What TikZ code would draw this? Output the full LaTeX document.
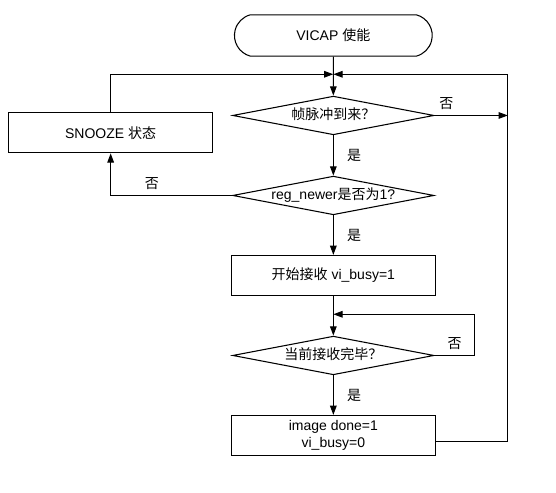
\documentclass[tikz,border=0pt]{standalone}
\usepackage{fontspec}
\setmainfont{Liberation Sans}
\newfontfamily\cjk{Noto Sans CJK SC}
\usetikzlibrary{positioning,shapes.geometric,shapes.misc,arrows.meta}

\begin{document}
\begin{tikzpicture}[
    node distance=60pt,
    line width=0.8pt,
    font=\fontsize{10.5}{12.5}\selectfont,
    term/.style={rounded rectangle, rounded rectangle arc length=150, draw, minimum width=155pt, minimum height=31pt},
    proc/.style={rectangle, draw, minimum width=153pt, minimum height=30pt, align=center},
    dec/.style={diamond, draw, aspect=5, inner sep=0pt, text height=7.5pt, text depth=2pt, minimum width=151pt, minimum height=29pt},
    lbl/.style={inner sep=0pt},
    arrow/.style={-{Triangle[length=7pt,width=5pt]}}
]
    \useasboundingbox (-250pt,26.6pt) rectangle (167pt,-342.4pt);
    % Start
    \node[term] (start) {VICAP {\cjk 使能}};
    % Main column
    \node[dec, below of=start] (pulse) {{\cjk 帧脉冲到来？}};
    \node[dec, below of=pulse] (newer) {reg\_newer{\cjk 是否为}1?};
    \node[proc, below of=newer] (recv) {{\cjk 开始接收} vi\_busy=1};
    \node[dec, below of=recv] (done) {{\cjk 当前接收完毕？}};
    \node[proc, below of=done] (image) {image done=1\\vi\_busy=0};
    % Snooze
    \node[proc, left of=pulse, xshift=-107pt, yshift=-13pt] (snooze) {SNOOZE {\cjk 状态}};
    % Join points
    \coordinate[above=16pt of pulse.north] (join1);
    \coordinate[right=55pt of pulse.east] (right1);
    \coordinate[above=16pt of done.north] (join2);
    % Arrows
    \draw[arrow] (start) -- (pulse);
    \draw[arrow] (pulse) -- node[lbl, right=10pt]{\cjk 是} (newer);
    \draw[arrow] (newer) -- node[lbl, right=10pt]{\cjk 是} (recv);
    \draw[arrow] (recv) -- (done);
    \draw[arrow] (done) -- node[lbl, right=10pt]{\cjk 是} (image);
    \draw[arrow] (pulse.east) -- node[lbl, pos=0.16, above=4pt]{\cjk 否} (right1);
    \draw[arrow] (newer.west) -| node[lbl, pos=0.33, above=4pt]{\cjk 否} (snooze.south);
    \draw[arrow] (snooze.north) |- (join1);
    \draw[arrow] ([yshift=-4.5pt]image.east) -| (right1 |- join1) -- (join1);
    \draw[arrow] (done.east) -- node[lbl, above=4pt]{\cjk 否} ++(30pt,0) |- (join2);
\end{tikzpicture}
\end{document}
